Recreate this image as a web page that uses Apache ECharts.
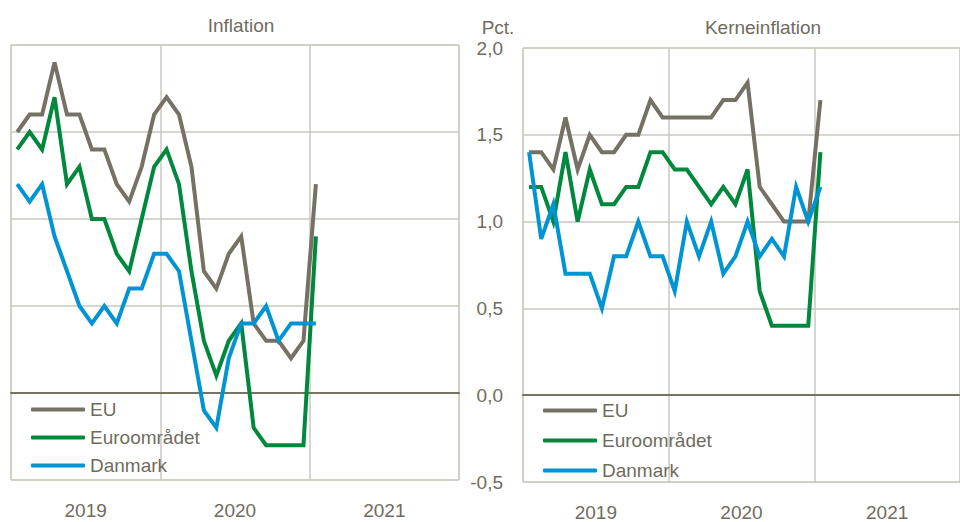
<!DOCTYPE html>
<html>
<head>
<meta charset="utf-8">
<script src="https://cdn.jsdelivr.net/npm/echarts@6/dist/echarts.min.js"></script>
<style>
html,body{margin:0;padding:0;background:#fff;}
#c{width:960px;height:522px;}
</style>
</head>
<body>
<div id="c"></div>
<script>
// Months (x categories, Jan 2019 - Dec 2021)
var months = ['2019-01','2019-02','2019-03','2019-04','2019-05','2019-06','2019-07','2019-08','2019-09','2019-10','2019-11','2019-12',
              '2020-01','2020-02','2020-03','2020-04','2020-05','2020-06','2020-07','2020-08','2020-09','2020-10','2020-11','2020-12',
              '2021-01','2021-02','2021-03','2021-04','2021-05','2021-06','2021-07','2021-08','2021-09','2021-10','2021-11','2021-12'];
var years = ['2019','2020','2021'];
var seriesNames = ['EU','Euroområdet','Danmark'];
var panelTitles = ['Inflation','Kerneinflation'];

// Inflation (left panel)
var inflEU = [1.5,1.6,1.6,1.9,1.6,1.6,1.4,1.4,1.2,1.1,1.3,1.6,1.7,1.6,1.3,0.7,0.6,0.8,0.9,0.4,0.3,0.3,0.2,0.3,1.2];
var inflEA = [1.4,1.5,1.4,1.7,1.2,1.3,1.0,1.0,0.8,0.7,1.0,1.3,1.4,1.2,0.7,0.3,0.1,0.3,0.4,-0.2,-0.3,-0.3,-0.3,-0.3,0.9];
var inflDK = [1.2,1.1,1.2,0.9,0.7,0.5,0.4,0.5,0.4,0.6,0.6,0.8,0.8,0.7,0.3,-0.1,-0.2,0.2,0.4,0.4,0.5,0.3,0.4,0.4,0.4];

// Kerneinflation (right panel)
var coreEU = [1.4,1.4,1.3,1.6,1.3,1.5,1.4,1.4,1.5,1.5,1.7,1.6,1.6,1.6,1.6,1.6,1.7,1.7,1.8,1.2,1.1,1.0,1.0,1.0,1.7];
var coreEA = [1.2,1.2,1.0,1.4,1.0,1.3,1.1,1.1,1.2,1.2,1.4,1.4,1.3,1.3,1.2,1.1,1.2,1.1,1.3,0.6,0.4,0.4,0.4,0.4,1.4];
var coreDK = [1.4,0.9,1.1,0.7,0.7,0.7,0.5,0.8,0.8,1.0,0.8,0.8,0.6,1.0,0.8,1.0,0.7,0.8,1.0,0.8,0.9,0.8,1.2,1.0,1.2];

var FONT = "'Liberation Sans', Arial, sans-serif";
var FS = 19;
var TXT = '#6f6c5e';
var GRID = '#cac8be';
var ZERO = '#77735f';
var COLORS = ['#757164', '#00883d', '#0094d4'];

var chart = echarts.init(document.getElementById('c'), null, {renderer: 'svg'});

function fmt(v){ return v.toFixed(1).replace('.', ','); }

var grids = [
  {left: 11, top: 45, width: 448, height: 435, show: true, borderColor: GRID, borderWidth: 1},
  {left: 523, top: 48, width: 447, height: 435, show: true, borderColor: GRID, borderWidth: 1}
];

var xAxes = [], yAxes = [], series = [];
[0,1].forEach(function(g){
  xAxes.push({
    type: 'category', data: months, gridIndex: g, boundaryGap: true,
    axisLine: {show: true, onZero: true, lineStyle: {color: ZERO, width: 2}},
    axisTick: {show: false}, axisLabel: {show: false}, splitLine: {show: false}
  });
  xAxes.push({
    type: 'category', data: years, gridIndex: g, boundaryGap: true, position: 'bottom',
    axisLine: {show: false}, axisTick: {show: false},
    axisLabel: {show: true, color: TXT, fontFamily: FONT, fontSize: FS, margin: 21},
    splitLine: {show: true, lineStyle: {color: GRID, width: 1.5}}
  });
  yAxes.push({
    type: 'value', gridIndex: g, min: -0.5, max: 2.0, interval: 0.5,
    axisLine: {show: false}, axisTick: {show: false},
    axisLabel: {show: g === 1, color: TXT, fontFamily: FONT, fontSize: FS, margin: 20, formatter: fmt},
    splitLine: {show: true, lineStyle: {color: GRID, width: 1.5}}
  });
});

var panelData = [[inflEU, inflEA, inflDK], [coreEU, coreEA, coreDK]];
panelData.forEach(function(arrs, g){
  arrs.forEach(function(arr, i){
    series.push({
      name: seriesNames[i], type: 'line', xAxisIndex: g * 2, yAxisIndex: g,
      data: arr, showSymbol: false, symbol: 'none', silent: true,
      lineStyle: {color: COLORS[i], width: 4, join: 'miter'},
      itemStyle: {color: COLORS[i]}, z: 3 + i
    });
  });
});

var legendBase = {
  orient: 'vertical', icon: 'roundRect', itemWidth: 54, itemHeight: 4,
  data: seriesNames, selectedMode: false,
  textStyle: {color: TXT, fontFamily: FONT, fontSize: FS},
  padding: 0
};

chart.setOption({
  animation: false,
  backgroundColor: '#fff',
  title: [
    {text: panelTitles[0], left: 236, top: 11, textAlign: 'center', textStyle: {color: TXT, fontFamily: FONT, fontSize: FS, fontWeight: 'normal'}},
    {text: panelTitles[1], left: 758, top: 13, textAlign: 'center', textStyle: {color: TXT, fontFamily: FONT, fontSize: FS, fontWeight: 'normal'}},
    {text: 'Pct.', left: 493, top: 13, textAlign: 'center', textStyle: {color: TXT, fontFamily: FONT, fontSize: FS, fontWeight: 'normal'}}
  ],
  grid: grids,
  xAxis: xAxes,
  yAxis: yAxes,
  legend: [
    Object.assign({}, legendBase, {left: 31, top: 400, itemGap: 9}),
    Object.assign({}, legendBase, {left: 543, top: 401, itemGap: 11})
  ],
  series: series
});
</script>
</body>
</html>
